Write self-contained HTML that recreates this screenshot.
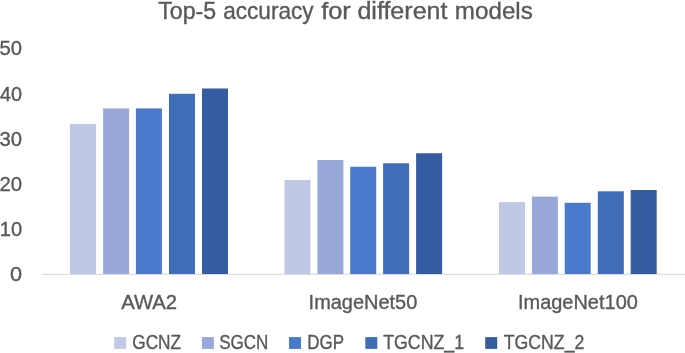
<!DOCTYPE html>
<html><head><meta charset="utf-8"><title>Top-5 accuracy for different models</title>
<style>
html,body{margin:0;padding:0;background:#fff;}
body{width:685px;height:353px;overflow:hidden;}
svg{display:block;}
text{font-family:"Liberation Sans",sans-serif;fill:#595959;stroke:#595959;stroke-width:0.35;}
</style></head><body>
<svg width="685" height="353" viewBox="0 0 685 353">
<rect width="685" height="353" fill="#fff"/>
<rect x="41.7" y="273.8" width="643.3" height="1" fill="#d4d4d4"/>
<rect x="70.00" y="123.90" width="26" height="150.10" fill="#bfc8e4"/>
<rect x="103.10" y="108.40" width="26" height="165.60" fill="#98a8da"/>
<rect x="135.90" y="108.40" width="26" height="165.60" fill="#4a7acb"/>
<rect x="169.00" y="93.80" width="26" height="180.20" fill="#3f6db9"/>
<rect x="202.00" y="88.50" width="26" height="185.50" fill="#355ba0"/>
<rect x="284.50" y="180.00" width="26" height="94.00" fill="#bfc8e4"/>
<rect x="317.40" y="160.00" width="26" height="114.00" fill="#98a8da"/>
<rect x="350.20" y="166.75" width="26" height="107.25" fill="#4a7acb"/>
<rect x="383.10" y="163.25" width="26" height="110.75" fill="#3f6db9"/>
<rect x="416.10" y="153.25" width="26" height="120.75" fill="#355ba0"/>
<rect x="499.00" y="202.10" width="26" height="71.90" fill="#bfc8e4"/>
<rect x="531.90" y="196.60" width="26" height="77.40" fill="#98a8da"/>
<rect x="564.70" y="202.80" width="26" height="71.20" fill="#4a7acb"/>
<rect x="597.80" y="191.30" width="26" height="82.70" fill="#3f6db9"/>
<rect x="630.70" y="190.00" width="26" height="84.00" fill="#355ba0"/>
<text transform="translate(158.23,18.5) scale(0.9987,1)" font-size="23.2">Top-5</text>
<text transform="translate(223.15,18.5) scale(0.9748,1)" font-size="23.2">accuracy</text>
<text transform="translate(321.16,18.5) scale(1.0953,1)" font-size="23.2">for</text>
<text transform="translate(357.39,18.5) scale(1.0808,1)" font-size="23.2">different</text>
<text transform="translate(454.87,18.5) scale(1.0433,1)" font-size="23.2">models</text>
<text transform="translate(121.18,309.1) scale(1.0381,1)" font-size="19.5">AWA2</text>
<text transform="translate(308.59,309.1) scale(1.0236,1)" font-size="19.5">ImageNet50</text>
<text transform="translate(517.94,309.1) scale(1.0246,1)" font-size="19.5">ImageNet100</text>
<text transform="translate(132.24,348.7) scale(0.8850,1)" font-size="19.5">GCNZ</text>
<text transform="translate(219.25,348.7) scale(0.8721,1)" font-size="19.5">SGCN</text>
<text transform="translate(307.20,348.7) scale(0.8700,1)" font-size="19.5">DGP</text>
<text transform="translate(383.17,348.7) scale(0.9115,1)" font-size="19.5">TGCNZ<tspan dy="-0.7">_</tspan><tspan dy="0.7">1</tspan></text>
<text transform="translate(503.67,348.7) scale(0.9092,1)" font-size="19.5">TGCNZ<tspan dy="-0.7">_</tspan><tspan dy="0.7">2</tspan></text>
<text transform="translate(10.11,281.25) scale(1.1117,1)" font-size="19.5">0</text>
<text transform="translate(-0.29,236.07) scale(1.0314,1)" font-size="19.5">10</text>
<text transform="translate(-0.58,190.89) scale(1.0454,1)" font-size="19.5">20</text>
<text transform="translate(-0.45,145.71) scale(1.0390,1)" font-size="19.5">30</text>
<text transform="translate(-0.06,100.53000000000002) scale(1.0204,1)" font-size="19.5">40</text>
<text transform="translate(-0.45,55.35000000000001) scale(1.0390,1)" font-size="19.5">50</text>
<rect x="114.2" y="337.1" width="12" height="11.8" fill="#bfc8e4"/>
<rect x="201.9" y="337.1" width="12" height="11.8" fill="#98a8da"/>
<rect x="289.0" y="337.1" width="12" height="11.8" fill="#4a7acb"/>
<rect x="365.3" y="337.1" width="12" height="11.8" fill="#3f6db9"/>
<rect x="485.2" y="337.1" width="12" height="11.8" fill="#355ba0"/>
</svg></body></html>
